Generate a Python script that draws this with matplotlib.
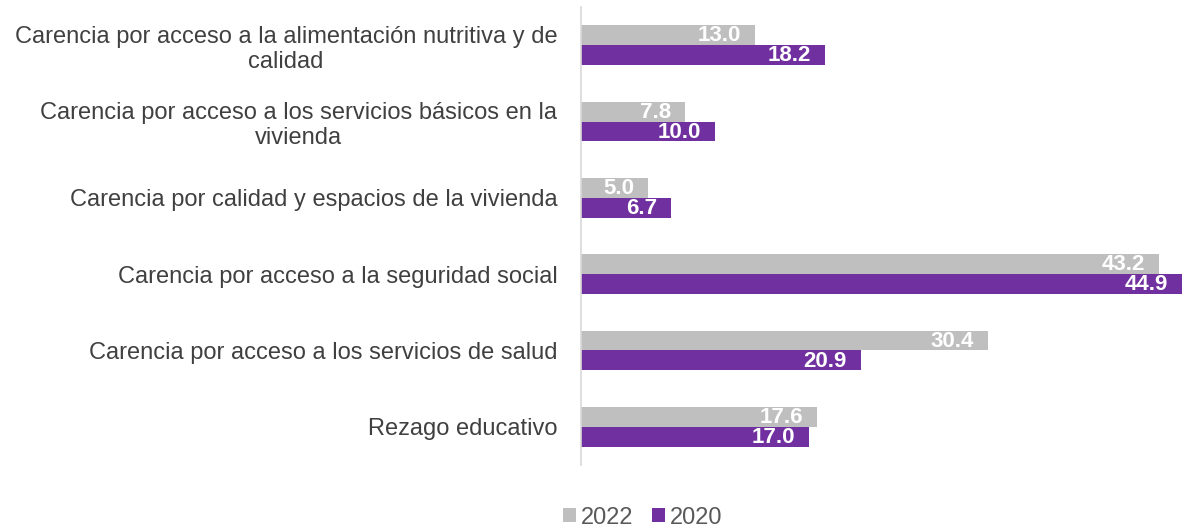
import matplotlib.pyplot as plt
import numpy as np

plt.rcParams['font.family'] = ['Liberation Sans', 'DejaVu Sans']

categorias = [
    "Carencia por acceso a la alimentación nutritiva y de\ncalidad",
    "Carencia por acceso a los servicios básicos en la\nvivienda",
    "Carencia por calidad y espacios de la vivienda",
    "Carencia por acceso a la seguridad social",
    "Carencia por acceso a los servicios de salud",
    "Rezago educativo",
]
valores_2022 = [13.0, 7.8, 5.0, 43.2, 30.4, 17.6]
valores_2020 = [18.2, 10.0, 6.7, 44.9, 20.9, 17.0]

gris = '#BFBFBF'
morado = '#7030A0'

fig = plt.figure(figsize=(11.82, 5.31), dpi=100)
ax = fig.add_axes([0.4915, 0.1243, 0.5085, 0.8625])

y = np.arange(len(categorias))
h = 0.26
b1 = ax.barh(y - h / 2, valores_2022, height=h, color=gris, label='2022')
b2 = ax.barh(y + h / 2, valores_2020, height=h, color=morado, label='2020')

for bars, vals in ((b1, valores_2022), (b2, valores_2020)):
    for rect, v in zip(bars, vals):
        ax.annotate(f'{v:.1f}', (rect.get_width(), rect.get_y() + rect.get_height() / 2),
                    xytext=(-10, -0.5), textcoords='offset points',
                    ha='right', va='center', color='white',
                    fontsize=16, fontweight='bold')

ax.set_xlim(0, 44.9)
ax.set_ylim(len(categorias) - 0.5, -0.5)
ax.set_yticks(y)
ax.set_yticklabels(categorias, fontsize=17, color='#404040', multialignment='center')
ax.tick_params(axis='y', length=0, pad=17)
ax.set_xticks([])
for s in ['top', 'right', 'bottom']:
    ax.spines[s].set_visible(False)
ax.spines['left'].set_color('#D9D9D9')
ax.spines['left'].set_linewidth(1.2)

handles = [b1, b2]
fig.legend(handles, ['2022', '2020'], loc='center', bbox_to_anchor=(0.544, 0.025),
           ncol=2, frameon=False, fontsize=17, handlelength=0.55, handleheight=0.55,
           handletextpad=0.2, columnspacing=0.8, labelcolor='#595959',
           borderpad=0, borderaxespad=0)

fig.savefig('out.png', dpi=100)
